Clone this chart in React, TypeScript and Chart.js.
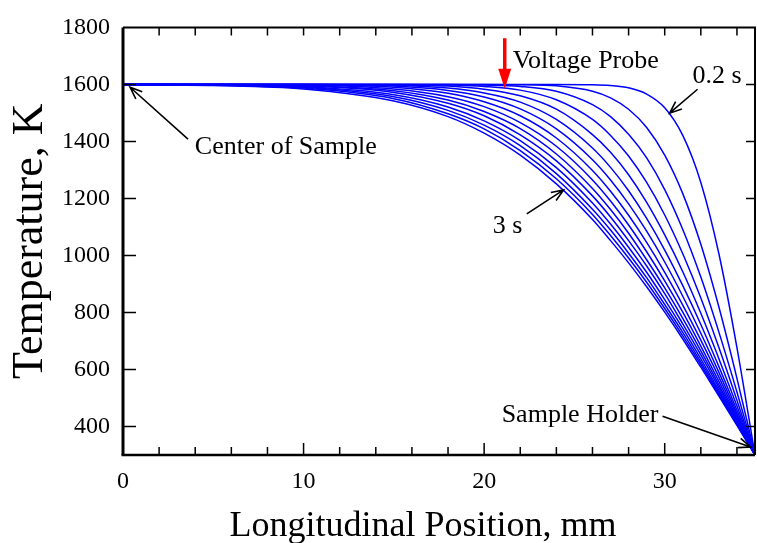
import React, { useEffect, useRef } from "react";
import { Chart, registerables } from "chart.js";

Chart.register(...registerables);

// Longitudinal position (mm) shared by every curve
const positions = [0, 5, 10, 15, 18, 20, 22, 24, 26, 27, 28, 29, 30, 31, 32, 33, 34, 35];

// Temperature (K) profiles, one per time step
const temp0_2s = [1600, 1600, 1600, 1600, 1600, 1600, 1600, 1600, 1599, 1596, 1588, 1566, 1518, 1421, 1256, 1006, 677, 300];
const temp0_4s = [1600, 1600, 1600, 1600, 1600, 1600, 1599, 1595, 1576, 1553, 1513, 1449, 1352, 1217, 1039, 819, 569, 300];
const temp0_6s = [1600, 1600, 1600, 1600, 1600, 1598, 1593, 1576, 1529, 1487, 1425, 1342, 1231, 1091, 924, 731, 521, 300];
const temp0_8s = [1600, 1600, 1600, 1600, 1598, 1593, 1580, 1546, 1477, 1421, 1349, 1256, 1142, 1006, 851, 677, 492, 300];
const temp1_0s = [1600, 1600, 1600, 1599, 1594, 1583, 1560, 1513, 1424, 1362, 1283, 1186, 1072, 943, 797, 638, 472, 300];
const temp1_2s = [1600, 1600, 1600, 1597, 1587, 1570, 1538, 1477, 1377, 1309, 1227, 1130, 1019, 894, 758, 610, 457, 300];
const temp1_4s = [1600, 1600, 1600, 1594, 1579, 1556, 1514, 1444, 1336, 1265, 1181, 1085, 977, 857, 727, 590, 446, 300];
const temp1_6s = [1600, 1600, 1599, 1590, 1569, 1539, 1490, 1412, 1298, 1225, 1141, 1046, 941, 826, 703, 573, 438, 300];
const temp1_8s = [1600, 1600, 1598, 1584, 1557, 1522, 1466, 1383, 1265, 1191, 1107, 1013, 911, 801, 682, 558, 430, 300];
const temp2_0s = [1600, 1600, 1596, 1578, 1545, 1505, 1445, 1356, 1235, 1161, 1078, 985, 886, 779, 665, 546, 424, 300];
const temp2_2s = [1600, 1599, 1595, 1572, 1534, 1490, 1423, 1332, 1209, 1135, 1052, 963, 866, 760, 651, 536, 418, 300];
const temp2_4s = [1600, 1599, 1592, 1564, 1521, 1472, 1403, 1308, 1184, 1110, 1029, 941, 845, 744, 637, 527, 414, 300];
const temp2_6s = [1600, 1598, 1590, 1557, 1509, 1457, 1385, 1287, 1162, 1089, 1008, 922, 828, 730, 626, 520, 411, 300];
const temp2_8s = [1600, 1598, 1587, 1550, 1497, 1444, 1368, 1269, 1144, 1070, 991, 906, 814, 718, 617, 513, 407, 300];
const temp3_0s = [1600, 1596, 1584, 1542, 1487, 1429, 1352, 1251, 1126, 1052, 974, 890, 801, 707, 608, 507, 404, 300];

const timeLabels = ["0.2 s", "0.4 s", "0.6 s", "0.8 s", "1.0 s", "1.2 s", "1.4 s", "1.6 s", "1.8 s", "2.0 s", "2.2 s", "2.4 s", "2.6 s", "2.8 s", "3.0 s"];
const profiles = [temp0_2s, temp0_4s, temp0_6s, temp0_8s, temp1_0s, temp1_2s, temp1_4s, temp1_6s, temp1_8s, temp2_0s, temp2_2s, temp2_4s, temp2_6s, temp2_8s, temp3_0s];

const xTickValues = [0, 10, 20, 30];
const xMinorTicks = [2, 4, 6, 8, 12, 14, 16, 18, 22, 24, 26, 28, 32, 34];
const yTickValues = [400, 600, 800, 1000, 1200, 1400, 1600, 1800];

const xTitle = "Longitudinal Position, mm";
const yTitle = "Temperature, K";

const SERIF = '"Liberation Serif", "Times New Roman", serif';

function arrow(ctx: CanvasRenderingContext2D, x1: number, y1: number, x2: number, y2: number) {
  const ang = Math.atan2(y2 - y1, x2 - x1);
  const h = 13;
  const spread = 0.38;
  ctx.beginPath();
  ctx.moveTo(x1, y1);
  ctx.lineTo(x2, y2);
  ctx.moveTo(x2 - h * Math.cos(ang - spread), y2 - h * Math.sin(ang - spread));
  ctx.lineTo(x2, y2);
  ctx.lineTo(x2 - h * Math.cos(ang + spread), y2 - h * Math.sin(ang + spread));
  ctx.stroke();
}

const decorations = {
  id: "decorations",
  afterDraw(chart: any) {
    const { ctx, chartArea, scales } = chart;
    const { left, right, top, bottom } = chartArea;
    const xs = scales.x;
    const ys = scales.y;
    const px = (v: number) => xs.getPixelForValue(v);
    const py = (v: number) => ys.getPixelForValue(v);
    ctx.save();
    ctx.strokeStyle = "#000";
    ctx.fillStyle = "#000";
    ctx.lineCap = "butt";

    // frame
    ctx.lineWidth = 3;
    ctx.beginPath();
    ctx.moveTo(left, top);
    ctx.lineTo(left, bottom);
    ctx.stroke();
    ctx.lineWidth = 2.5;
    ctx.beginPath();
    ctx.moveTo(left - 1.5, bottom);
    ctx.lineTo(right, bottom);
    ctx.stroke();
    ctx.lineWidth = 2;
    ctx.beginPath();
    ctx.moveTo(left, top);
    ctx.lineTo(right, top);
    ctx.lineTo(right, bottom);
    ctx.stroke();

    // ticks
    ctx.lineWidth = 1.5;
    ctx.beginPath();
    for (const v of xTickValues) {
      if (v === 0) continue;
      const x = px(v);
      ctx.moveTo(x, bottom);
      ctx.lineTo(x, bottom - 12);
      ctx.moveTo(x, top);
      ctx.lineTo(x, top + 8);
    }
    for (const v of xMinorTicks) {
      const x = px(v);
      ctx.moveTo(x, bottom);
      ctx.lineTo(x, bottom - 8);
      ctx.moveTo(x, top);
      ctx.lineTo(x, top + 8);
    }
    for (const v of yTickValues) {
      if (v >= 1800) continue;
      const y = py(v);
      ctx.moveTo(left, y);
      ctx.lineTo(left + 13, y);
      ctx.moveTo(right, y);
      ctx.lineTo(right - 9, y);
    }
    ctx.stroke();

    // annotations
    ctx.font = `26px ${SERIF}`;
    ctx.textAlign = "left";
    ctx.textBaseline = "alphabetic";
    ctx.fillText("Voltage Probe", px(21.58), py(1657));
    ctx.fillText("0.2 s", px(31.54), py(1604));
    ctx.fillText("Center of Sample", px(3.98), py(1356));
    ctx.fillText("3 s", px(20.47), py(1080));
    ctx.fillText("Sample Holder", px(20.97), py(415));

    ctx.lineWidth = 1.6;
    arrow(ctx, px(31.82), py(1583), px(30.27), py(1499));
    arrow(ctx, px(3.6), py(1408), px(0.39), py(1590));
    arrow(ctx, px(22.36), py(1146), px(24.4), py(1230));
    arrow(ctx, px(29.88), py(436), px(34.75), py(328));

    // red voltage-probe arrow
    const rx = px(21.14);
    const ry1 = py(1762);
    const ry2 = py(1585);
    ctx.strokeStyle = "#ff0000";
    ctx.fillStyle = "#ff0000";
    ctx.lineWidth = 3.5;
    ctx.beginPath();
    ctx.moveTo(rx, ry1);
    ctx.lineTo(rx, ry2 - 16);
    ctx.stroke();
    ctx.beginPath();
    ctx.moveTo(rx - 6.5, ry2 - 20);
    ctx.lineTo(rx + 6.5, ry2 - 20);
    ctx.lineTo(rx, ry2);
    ctx.closePath();
    ctx.fill();

    // axis titles
    ctx.fillStyle = "#000";
    ctx.font = `36px ${SERIF}`;
    ctx.textAlign = "center";
    ctx.fillText(xTitle, 423, 536);
    ctx.save();
    ctx.translate(42, (top + bottom) / 2);
    ctx.rotate(-Math.PI / 2);
    ctx.font = `44px ${SERIF}`;
    ctx.fillText(yTitle, 0, 0);
    ctx.restore();

    ctx.restore();
  },
};

export default function App() {
  const canvasRef = useRef<HTMLCanvasElement | null>(null);

  useEffect(() => {
    const canvas = canvasRef.current;
    if (!canvas) return;
    const datasets = profiles.map((vals, i) => ({
      label: timeLabels[i],
      data: positions.map((x, j) => ({ x, y: vals[j] })),
      borderColor: "#0000ff",
      backgroundColor: "#0000ff",
      borderWidth: 1.5,
      pointRadius: 0,
      fill: false,
      cubicInterpolationMode: "monotone" as const,
    }));
    const chart = new Chart(canvas, {
      type: "line",
      data: { datasets },
      options: {
        responsive: false,
        animation: false,
        devicePixelRatio: 1,
        layout: { padding: { top: 25, right: 2, left: 0, bottom: 0 } },
        plugins: { legend: { display: false }, tooltip: { enabled: false } },
        scales: {
          x: {
            type: "linear",
            min: 0,
            max: 35,
            grid: { display: false, drawTicks: false },
            border: { display: false },
            ticks: {
              padding: 12,
              color: "#000",
              maxRotation: 0,
              font: { family: SERIF, size: 24 },
              callback: (v: any) => String(v),
            },
            afterBuildTicks: (s: any) => {
              s.ticks = xTickValues.map((v) => ({ value: v }));
            },
            afterFit: (s: any) => {
              s.height = 88;
            },
          },
          y: {
            type: "linear",
            min: 300,
            max: 1800,
            grid: { display: false, drawTicks: false },
            border: { display: false },
            ticks: {
              padding: 13,
              color: "#000",
              font: { family: SERIF, size: 24 },
              callback: (v: any) => String(v),
            },
            afterBuildTicks: (s: any) => {
              s.ticks = yTickValues.map((v) => ({ value: v }));
            },
            afterFit: (s: any) => {
              s.width = 123;
            },
          },
        },
      },
      plugins: [decorations],
    });
    return () => chart.destroy();
  }, []);

  return (
    <div style={{ position: "absolute", left: 0, top: 0, width: 757, height: 543, background: "#fff" }}>
      <canvas ref={canvasRef} width={757} height={543} />
    </div>
  );
}
